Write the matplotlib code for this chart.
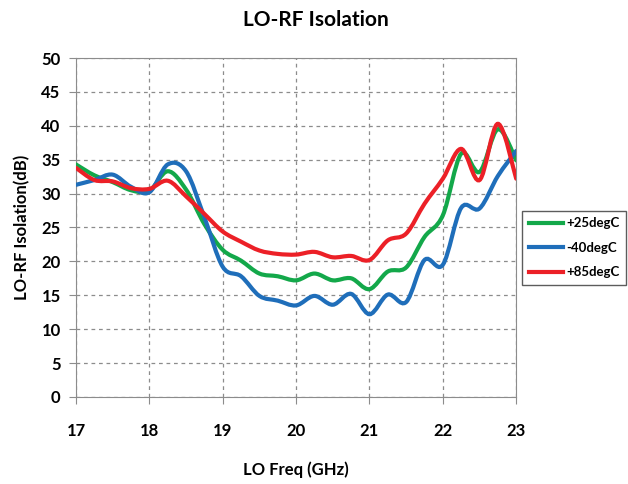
"""LO-RF isolation vs LO frequency, three temperatures"""

import numpy as np
import matplotlib
matplotlib.use("Agg")
import matplotlib.pyplot as plt
from matplotlib.path import Path
from matplotlib.patches import PathPatch
from matplotlib.lines import Line2D

plt.rcParams['font.family'] = ['Lato', 'DejaVu Sans']

freq = [17.0, 17.25, 17.5, 17.75, 18.0, 18.25, 18.5, 18.75, 19.0, 19.25, 19.5, 19.75,
        20.0, 20.25, 20.5, 20.75, 21.0, 21.25, 21.5, 21.75, 22.0, 22.25, 22.5, 22.75, 23.0]

iso_25 = [34.3, 32.7, 31.7, 30.5, 30.4, 33.3, 30.6, 25.5, 21.7, 20.1, 18.2, 17.8,
          17.2, 18.2, 17.2, 17.5, 15.9, 18.5, 19.1, 23.6, 26.8, 35.9, 33.2, 39.5, 34.9]
iso_m40 = [31.3, 32.0, 32.8, 31.0, 30.2, 34.3, 33.3, 26.5, 19.2, 17.8, 14.9, 14.2,
           13.5, 14.9, 13.6, 15.2, 12.2, 15.1, 14.0, 20.2, 19.5, 27.9, 27.8, 32.6, 36.3]
iso_85 = [33.8, 32.0, 31.8, 30.8, 30.7, 31.9, 29.6, 27.0, 24.4, 22.9, 21.6, 21.1,
          21.0, 21.4, 20.6, 20.8, 20.2, 23.1, 24.1, 28.5, 32.2, 36.6, 32.0, 40.3, 32.2]

labels = ['+25degC', '-40degC', '+85degC']
colors = ['#13A84A', '#1F6EBA', '#EC2027']


def smooth_path(x, y):
    # excel-like smoothed line: catmull-rom turned into cubic beziers
    x = np.asarray(x, float)
    y = np.asarray(y, float)
    n = len(x)
    verts = [(x[0], y[0])]
    codes = [Path.MOVETO]
    for i in range(n - 1):
        p0 = np.array([x[max(i - 1, 0)], y[max(i - 1, 0)]])
        p1 = np.array([x[i], y[i]])
        p2 = np.array([x[i + 1], y[i + 1]])
        p3 = np.array([x[min(i + 2, n - 1)], y[min(i + 2, n - 1)]])
        c1 = p1 + (p2 - p0) / 6.0
        c2 = p2 - (p3 - p1) / 6.0
        verts += [tuple(c1), tuple(c2), tuple(p2)]
        codes += [Path.CURVE4] * 3
    return Path(verts, codes)


fig = plt.figure(figsize=(6.28, 4.84), dpi=100)
ax = fig.add_axes([0.121, 0.180, 0.701, 0.700])

for vals, col in zip([iso_25, iso_m40, iso_85], colors):
    ax.add_patch(PathPatch(smooth_path(freq, vals), facecolor='none',
                           edgecolor=col, lw=3.0, capstyle='round', zorder=3))

ax.set_xlim(17, 23)
ax.set_ylim(0, 50)
ax.set_xticks(np.arange(17, 24, 1))
ax.set_yticks(np.arange(0, 55, 5))
ax.grid(True, color='#8c8c8c', linestyle=(0, (3, 3)), linewidth=0.9)
for s in ax.spines.values():
    s.set_color('#8c8c8c')
ax.tick_params(direction='out', length=5, color='#8c8c8c', labelsize=12, pad=6)
for t in ax.get_xticklabels() + ax.get_yticklabels():
    t.set_fontweight('bold')
ax.tick_params(axis='x', pad=14)

fig.text(0.503, 0.958, 'LO-RF Isolation', ha='center', va='center',
         fontsize=15, fontweight='bold')
ax.set_xlabel('LO Freq (GHz)', fontsize=12, fontweight='bold', labelpad=16)
ax.set_ylabel('LO-RF Isolation(dB)', fontsize=12, fontweight='bold', labelpad=8)

handles = [Line2D([], [], color=c, lw=3.0) for c in colors]
leg = fig.legend(handles, labels, loc='upper left', bbox_to_anchor=(0.832, 0.565),
                 fontsize=9.5, frameon=True, fancybox=False, handlelength=2.6,
                 handletextpad=0.2, borderpad=0.5, labelspacing=0.95,
                 borderaxespad=0)
leg.get_frame().set_edgecolor('#333333')
leg.get_frame().set_linewidth(1.0)
for t in leg.get_texts():
    t.set_fontweight('bold')

fig.savefig('out.png', dpi=100)
